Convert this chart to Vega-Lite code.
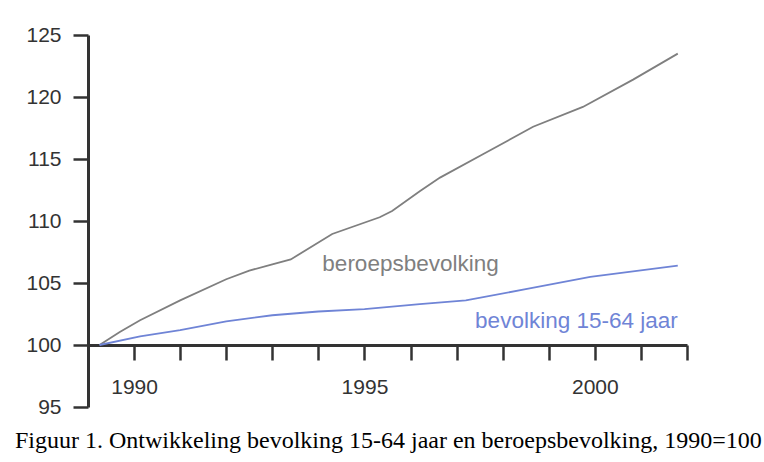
{
  "$schema": "https://vega.github.io/schema/vega-lite/v6.json",
  "autosize": {"type": "none"},
  "width": 599,
  "height": 372,
  "padding": {"left": 88, "top": 35, "right": 77, "bottom": 55},
  "background": "white",
  "config": {"view": {"stroke": null}, "font": "Liberation Sans"},
  "title": {
    "text": "Figuur 1. Ontwikkeling bevolking 15-64 jaar en beroepsbevolking, 1990=100",
    "orient": "bottom",
    "anchor": "start",
    "frame": "group",
    "font": "Liberation Serif",
    "fontSize": 24,
    "fontWeight": "normal",
    "color": "#000000",
    "dx": -73,
    "offset": 12
  },
  "datasets": {
    "series": [
      {"series": "beroepsbevolking", "year": 1989.25, "value": 100.0},
      {"series": "beroepsbevolking", "year": 1989.69, "value": 101.05},
      {"series": "beroepsbevolking", "year": 1990.13, "value": 102.0},
      {"series": "beroepsbevolking", "year": 1991.0, "value": 103.6},
      {"series": "beroepsbevolking", "year": 1992.0, "value": 105.3},
      {"series": "beroepsbevolking", "year": 1992.5, "value": 106.0},
      {"series": "beroepsbevolking", "year": 1993.0, "value": 106.5},
      {"series": "beroepsbevolking", "year": 1993.4, "value": 106.9},
      {"series": "beroepsbevolking", "year": 1994.3, "value": 108.95},
      {"series": "beroepsbevolking", "year": 1995.33, "value": 110.3},
      {"series": "beroepsbevolking", "year": 1995.6, "value": 110.8},
      {"series": "beroepsbevolking", "year": 1996.2, "value": 112.4},
      {"series": "beroepsbevolking", "year": 1996.64, "value": 113.5},
      {"series": "beroepsbevolking", "year": 1997.58, "value": 115.4},
      {"series": "beroepsbevolking", "year": 1998.66, "value": 117.6},
      {"series": "beroepsbevolking", "year": 1999.74, "value": 119.2},
      {"series": "beroepsbevolking", "year": 2000.83, "value": 121.4},
      {"series": "beroepsbevolking", "year": 2001.8, "value": 123.5},
      {"series": "bevolking 15-64 jaar", "year": 1989.25, "value": 100.0},
      {"series": "bevolking 15-64 jaar", "year": 1990.13, "value": 100.7},
      {"series": "bevolking 15-64 jaar", "year": 1991.0, "value": 101.2},
      {"series": "bevolking 15-64 jaar", "year": 1992.0, "value": 101.9},
      {"series": "bevolking 15-64 jaar", "year": 1993.0, "value": 102.4},
      {"series": "bevolking 15-64 jaar", "year": 1994.0, "value": 102.7},
      {"series": "bevolking 15-64 jaar", "year": 1995.0, "value": 102.9},
      {"series": "bevolking 15-64 jaar", "year": 1996.2, "value": 103.3},
      {"series": "bevolking 15-64 jaar", "year": 1997.2, "value": 103.6},
      {"series": "bevolking 15-64 jaar", "year": 1998.5, "value": 104.5},
      {"series": "bevolking 15-64 jaar", "year": 1999.9, "value": 105.5},
      {"series": "bevolking 15-64 jaar", "year": 2001.8, "value": 106.4}
    ],
    "labels": [
      {"series": "beroepsbevolking", "year": 1996.0, "value": 106.5, "label": "beroepsbevolking"},
      {"series": "bevolking 15-64 jaar", "year": 1999.6, "value": 101.9, "label": "bevolking 15-64 jaar"}
    ]
  },
  "layer": [
    {
      "data": {"name": "series"},
      "mark": {"type": "line", "strokeWidth": 1.8},
      "encoding": {
        "x": {
          "field": "year",
          "type": "quantitative",
          "scale": {"domain": [1989, 2002], "nice": false, "zero": false},
          "axis": {
            "title": null,
            "offset": -62,
            "values": [1989, 1990, 1991, 1992, 1993, 1994, 1995, 1996, 1997, 1998, 1999, 2000, 2001, 2002],
            "labelExpr": "datum.value % 5 == 0 ? datum.value : ''",
            "grid": false,
            "domainColor": "#333333",
            "domainWidth": 3,
            "tickColor": "#333333",
            "tickWidth": 2.5,
            "tickSize": 15,
            "labelPadding": 16,
            "labelDx": -4,
            "labelFontSize": 21,
            "labelColor": "#333333",
            "labelFont": "Liberation Sans"
          }
        },
        "y": {
          "field": "value",
          "type": "quantitative",
          "scale": {"domain": [95, 125], "nice": false, "zero": false},
          "axis": {
            "title": null,
            "values": [95, 100, 105, 110, 115, 120, 125],
            "grid": false,
            "domainColor": "#333333",
            "domainWidth": 3,
            "tickColor": "#333333",
            "tickWidth": 2.5,
            "tickSize": 15,
            "labelPadding": 12,
            "labelFontSize": 21,
            "labelColor": "#333333",
            "labelFont": "Liberation Sans"
          }
        },
        "color": {
          "field": "series",
          "type": "nominal",
          "scale": {"domain": ["beroepsbevolking", "bevolking 15-64 jaar"], "range": ["#7f7f7f", "#6f84d6"]},
          "legend": null
        }
      }
    },
    {
      "data": {"name": "labels"},
      "mark": {"type": "text", "fontSize": 22.5, "align": "center", "baseline": "middle", "font": "Liberation Sans"},
      "encoding": {
        "x": {"field": "year", "type": "quantitative"},
        "y": {"field": "value", "type": "quantitative"},
        "text": {"field": "label"},
        "color": {
          "field": "series",
          "type": "nominal",
          "scale": {"domain": ["beroepsbevolking", "bevolking 15-64 jaar"], "range": ["#8a8a8a", "#8c9de0"]},
          "legend": null
        }
      }
    }
  ]
}
